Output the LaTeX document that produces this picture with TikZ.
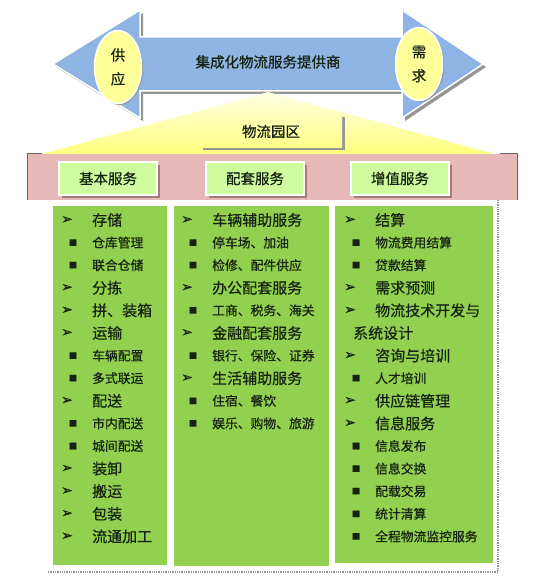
\documentclass[tikz,border=0pt]{standalone}
\usepackage{fontspec}
\setmainfont{Noto Sans CJK SC}[FakeBold=0.5]
\newfontfamily\symfont{DejaVu Sans}[FakeBold=0.6]
\usetikzlibrary{shapes.geometric,shadows}
\definecolor{arrowblue}{RGB}{141,180,226}
\definecolor{ellyellow}{RGB}{255,255,153}
\definecolor{pinkband}{RGB}{230,184,183}
\definecolor{pinkedge}{RGB}{125,95,95}
\definecolor{hdrgreen}{RGB}{206,252,158}
\definecolor{colgreen}{RGB}{146,208,80}
\definecolor{hdrshadow}{RGB}{165,122,122}
\definecolor{txtdark}{RGB}{22,34,18}
\definecolor{triyellow}{RGB}{255,255,125}
\definecolor{trilight}{RGB}{255,255,228}
\definecolor{shadegray}{RGB}{150,150,150}
\newcommand\svcitem[6]{%
  \pgfmathsetmacro\yy{220+22.6*#2}%
  \ifnum#3=1
    \node[arrbul] (#1b#2) at (#5,\yy) {➢};
    \node[lvone] (#1t#2) at (#6,\yy) {#4};
  \else\ifnum#3=2
    \node[sqbul] (#1b#2) at (#5+6,\yy) {■};
    \node[lvtwo] (#1t#2) at (#6,\yy) {#4};
  \else
    \node[lvone] (#1t#2) at (#5+3,\yy) {#4};
  \fi\fi}
\begin{document}
\begin{tikzpicture}[x=1pt,y=-1pt,
  every node/.style={inner sep=0pt, text=txtdark},
  lvone/.style={font=\fontsize{15}{15}\selectfont, anchor=west},
  lvtwo/.style={font=\fontsize{12.8}{13}\selectfont, anchor=west},
  arrbul/.style={font=\symfont\fontsize{14}{14}\selectfont},
  sqbul/.style={font=\symfont\fontsize{8.5}{8.5}\selectfont},
  hdr/.style={fill=hdrgreen, draw=white, line width=1.5pt, minimum width=98pt,
    minimum height=33pt, font=\fontsize{14.5}{15}\selectfont,
    drop shadow={shadow xshift=3pt, shadow yshift=-3pt, fill=hdrshadow, opacity=1}},
  colbox/.style={fill=colgreen, draw=white, line width=1pt, anchor=north west},
  ell/.style={ellipse, fill=ellyellow, draw=white, line width=1.5pt,
    minimum width=47pt, minimum height=73pt, align=center,
    font=\fontsize{14.5}{24}\selectfont,
    drop shadow={shadow xshift=1.5pt, shadow yshift=-1.5pt, fill=shadegray, opacity=1}}]
\useasboundingbox (0,0) rectangle (535,585);
\fill[white] (0,0) rectangle (535,585);

% big double arrow
\begin{scope}[shift={(3,3)}]
\fill[shadegray] (53,64) -- (140,10) -- (140,37) -- (402,37) -- (402,10) -- (483,64)
  -- (402,118) -- (402,91) -- (140,91) -- (140,118) -- cycle;
\end{scope}
\filldraw[fill=arrowblue, draw=white, line width=1.5pt] (53,64) -- (140,10) -- (140,37)
  -- (402,37) -- (402,10) -- (483,64) -- (402,118) -- (402,91) -- (140,91) -- (140,118) -- cycle;
\node[ell] (supply) at (118,67) {供\\应};
\node[ell] (demand) at (419,64) {需\\求};
\node[font=\fontsize{14.5}{15}\selectfont] (provider) at (268,62) {集成化物流服务提供商};

% yellow roof
\shade[top color=trilight, bottom color=triyellow] (268,92) -- (494,154) -- (42,154) -- cycle;
\node[minimum width=142pt, minimum height=33pt, top color=trilight!60!triyellow,
  bottom color=triyellow!90!white, font=\fontsize{14.5}{15}\selectfont,
  drop shadow={shadow xshift=2.5pt, shadow yshift=-2.5pt, fill=shadegray, opacity=1}]
  (park) at (271,131.5) {物流园区};

% pink band
\fill[pinkband] (27,154) rectangle (517,200);
\draw[pinkedge, line width=1pt] (42,154) -- (27,154) -- (27,200);
\draw[pinkedge, line width=1pt] (500,154) -- (517,154) -- (517,200);
\node[hdr] (basic) at (108,178.5) {基本服务};
\node[hdr] (support) at (255,178.5) {配套服务};
\node[hdr] (value) at (400,178.5) {增值服务};

% columns
\draw[shadegray, densely dotted, line width=1.3pt] (48,572) -- (498,572) -- (498,200);
\node[colbox, minimum width=115pt, minimum height=360pt] (col1) at (52,205) {};
\node[colbox, minimum width=156pt, minimum height=361pt] (col2) at (173,205) {};
\node[colbox, minimum width=159pt, minimum height=358pt] (col3) at (334,205) {};

\foreach [count=\i from 0] \lv/\tx in {1/存储,2/仓库管理,2/联合仓储,1/分拣,1/拼、装箱,1/运输,
  2/车辆配置,2/多式联运,1/配送,2/市内配送,2/城间配送,1/装卸,1/搬运,1/包装,1/流通加工}
  {\svcitem{a}{\i}{\lv}{\tx}{67}{92}}
\foreach [count=\i from 0] \lv/\tx in {1/车辆辅助服务,2/停车场、加油,2/检修、配件供应,
  1/办公配套服务,2/工商、税务、海关,1/金融配套服务,2/银行、保险、证券,1/生活辅助服务,
  2/住宿、餐饮,2/娱乐、购物、旅游}
  {\svcitem{b}{\i}{\lv}{\tx}{187}{212}}
\foreach [count=\i from 0] \lv/\tx in {1/结算,2/物流费用结算,2/贷款结算,1/需求预测,
  1/物流技术开发与,0/系统设计,1/咨询与培训,2/人才培训,1/供应链管理,1/信息服务,
  2/信息发布,2/信息交换,2/配载交易,2/统计清算,2/全程物流监控服务}
  {\svcitem{c}{\i}{\lv}{\tx}{350}{375}}
\end{tikzpicture}
\end{document}
